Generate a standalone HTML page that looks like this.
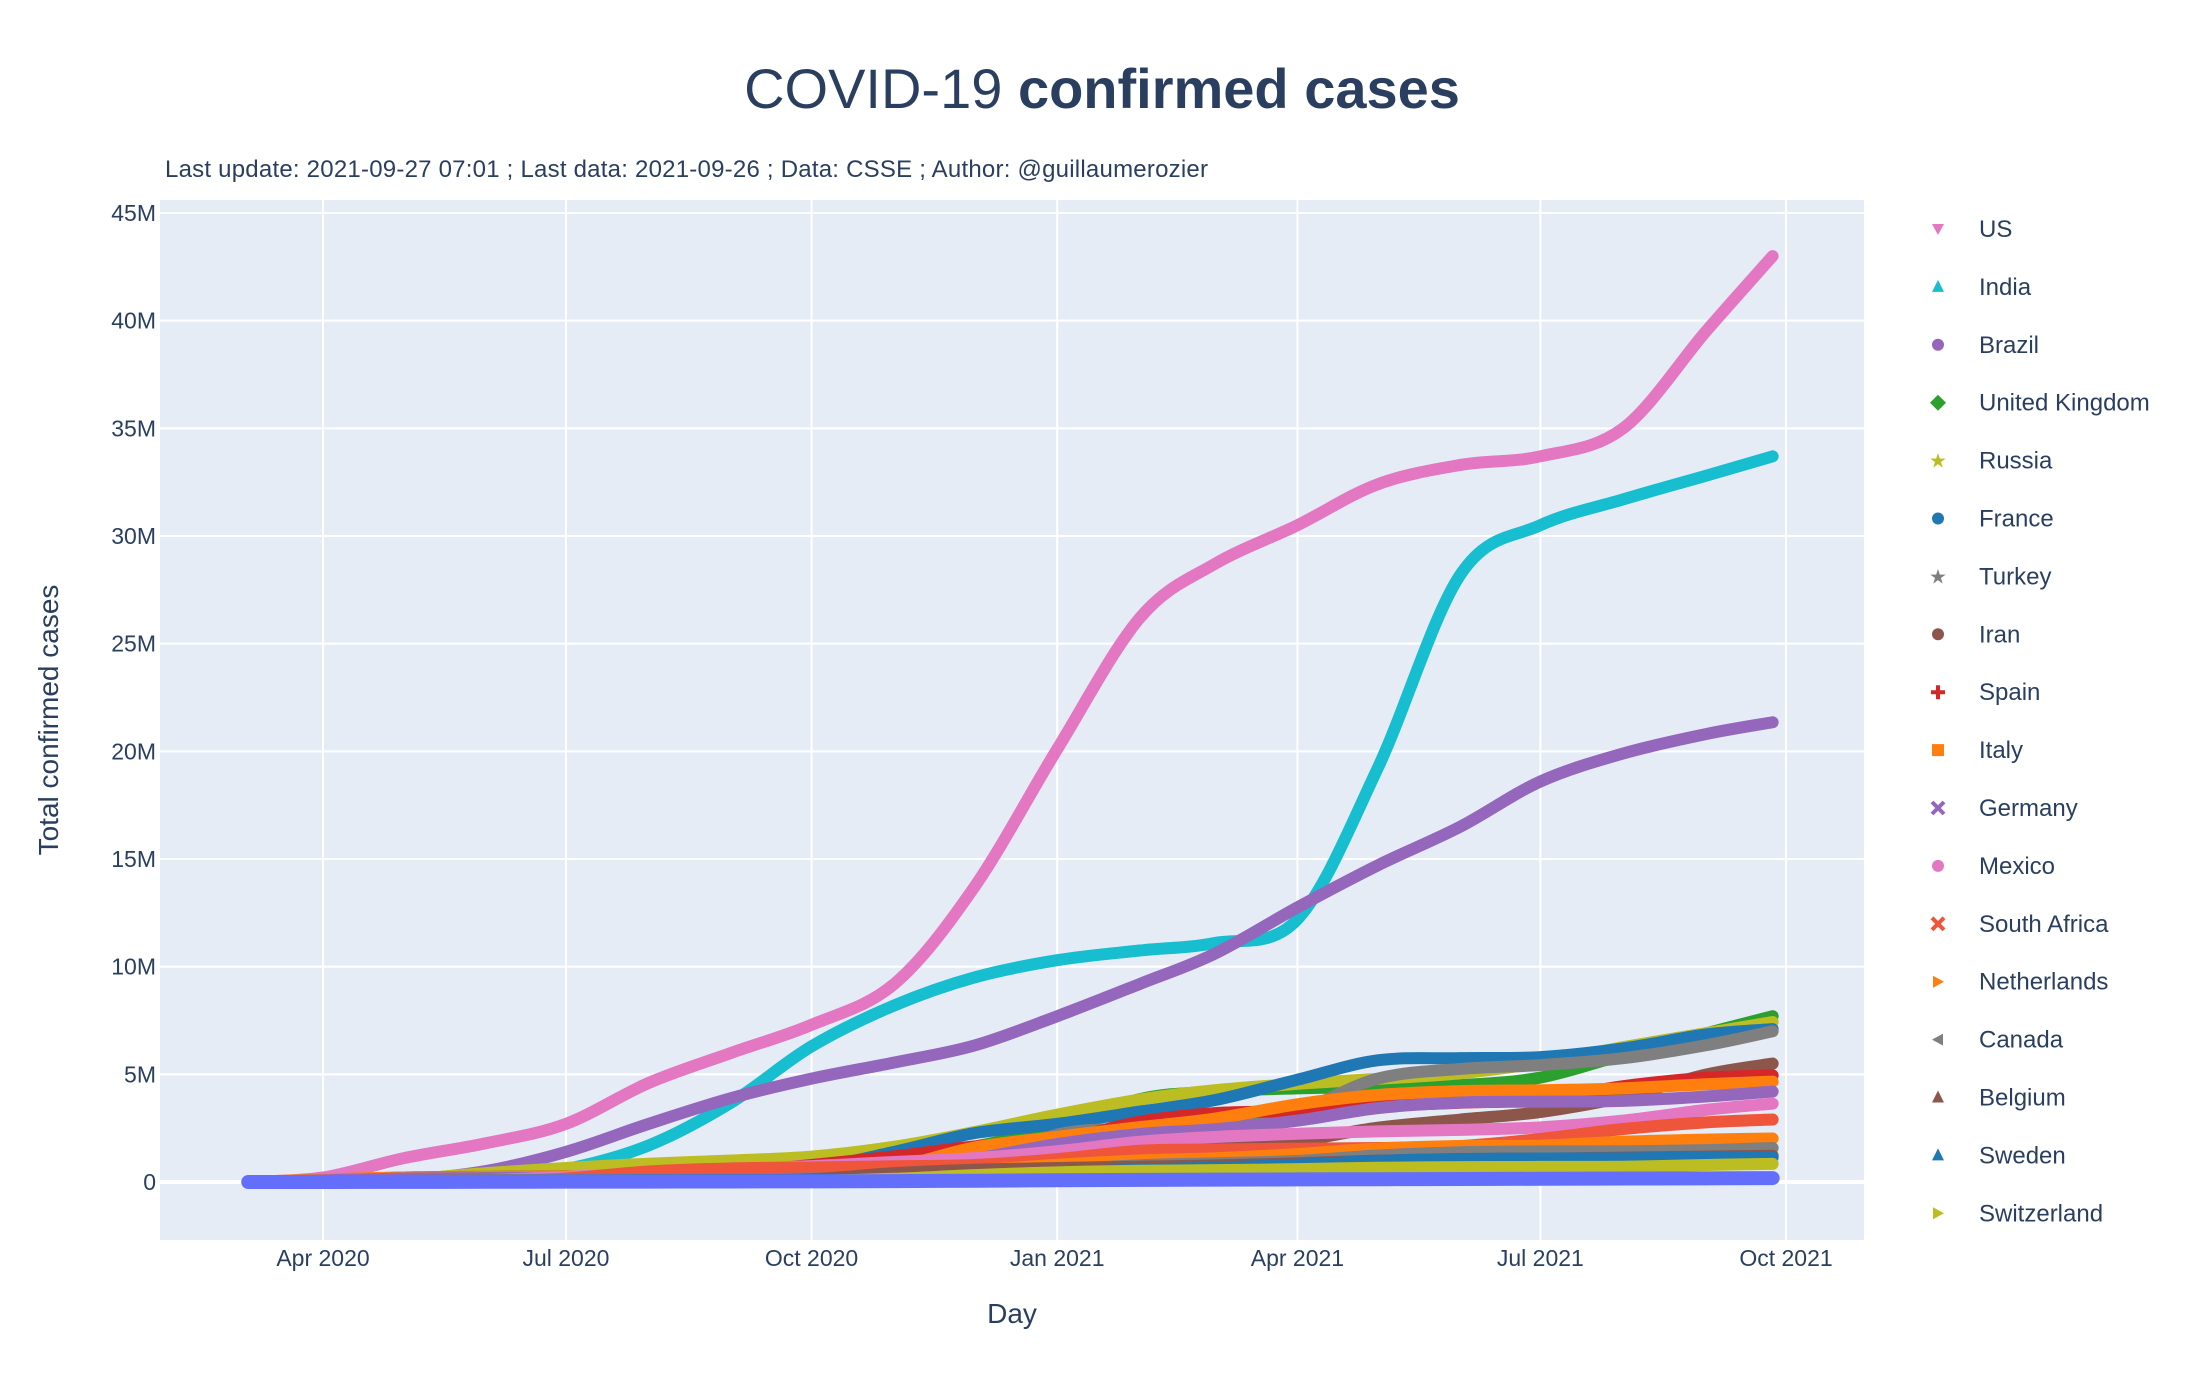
<!DOCTYPE html>
<html><head><meta charset="utf-8"><style>
html,body{margin:0;padding:0;background:#fff;}
svg{display:block;font-family:"Liberation Sans","DejaVu Sans",sans-serif;}
</style></head><body>
<svg id="chart" width="2200" height="1400" viewBox="0 0 2200 1400">
<text x="1102" y="108" text-anchor="middle" font-size="56" fill="#2a3f5f">COVID-19 <tspan font-weight="bold">confirmed cases</tspan></text>
<text x="165" y="177" font-size="24" fill="#2a3f5f" textLength="1043">Last update: 2021-09-27 07:01 ; Last data: 2021-09-26 ; Data: CSSE ; Author: @guillaumerozier</text>
<rect x="160" y="200" width="1704" height="1040" fill="#e5ecf6"/>
<g id="grid"></g>
<g id="series"></g>
<g id="axes"></g>
<text transform="translate(58,720) rotate(-90)" text-anchor="middle" font-size="28" fill="#2a3f5f">Total confirmed cases</text>
<text x="1012" y="1323" text-anchor="middle" font-size="28" fill="#2a3f5f">Day</text>
<g id="legend"></g>
</svg>
<script>
const dates = ["2020-03-04","2020-04-01","2020-05-01","2020-06-01","2020-07-01","2020-08-01","2020-09-01","2020-10-01","2020-11-01","2020-12-01","2021-01-01","2021-02-01","2021-03-01","2021-04-01","2021-05-01","2021-06-01","2021-07-01","2021-08-01","2021-09-01","2021-09-26"];
const countries = ["US","India","Brazil","United Kingdom","Russia","France","Turkey","Iran","Spain","Italy","Germany","Mexico","South Africa","Netherlands","Canada","Belgium","Sweden","Switzerland"];
const colors = ["#e377c2","#17becf","#9467bd","#2ca02c","#bcbd22","#1f77b4","#7f7f7f","#8c564b","#d62728","#ff7f0e","#9467bd","#e377c2","#ef553b","#ff7f0e","#7f7f7f","#8c564b","#1f77b4","#bcbd22"];
const symbols = ["tri-down","tri-up","circle","diamond","star6","circle","star","circle","cross","square","x","circle","x","tri-right","tri-left","tri-up","tri-up","tri-right"];
const vUS = [0,0.21,1.1,1.8,2.7,4.6,6.0,7.3,9.2,13.7,20.1,26.2,28.7,30.5,32.4,33.3,33.7,35.0,39.5,43.0];
const vIndia = [0,0.002,0.035,0.19,0.6,1.7,3.7,6.3,8.2,9.5,10.3,10.75,11.1,12.2,19.2,28.2,30.5,31.7,32.8,33.7];
const vBrazil = [0,0.006,0.09,0.51,1.4,2.7,3.9,4.8,5.55,6.34,7.7,9.2,10.6,12.75,14.7,16.5,18.6,19.9,20.8,21.35];
const vUK = [0,0.03,0.18,0.28,0.31,0.3,0.34,0.47,1.03,1.64,2.52,3.85,4.2,4.35,4.42,4.5,4.85,5.9,6.9,7.7];
const vRussia = [0,0.003,0.11,0.41,0.65,0.85,1.0,1.18,1.64,2.32,3.13,3.83,4.26,4.56,4.79,5.05,5.54,6.26,6.91,7.43];
const vFrance = [0,0.057,0.17,0.19,0.2,0.23,0.32,0.62,1.4,2.27,2.7,3.27,3.8,4.75,5.65,5.75,5.8,6.2,6.85,7.1];
const vTurkey = [0,0.015,0.12,0.164,0.2,0.23,0.27,0.32,0.37,0.54,2.2,2.48,2.7,3.3,4.8,5.25,5.43,5.75,6.35,7.0];
const vIran = [0.001,0.048,0.095,0.154,0.23,0.30,0.375,0.46,0.63,0.96,1.23,1.43,1.63,1.91,2.52,2.9,3.25,3.94,4.99,5.5];
const vSpain = [0,0.1,0.21,0.24,0.25,0.29,0.46,0.79,1.19,1.65,1.93,2.8,3.2,3.3,3.52,3.68,3.83,4.45,4.84,4.95];
const vItaly = [0.001,0.11,0.21,0.23,0.24,0.25,0.27,0.31,0.68,1.6,2.1,2.55,2.94,3.61,4.04,4.22,4.26,4.35,4.54,4.66];
const vGermany = [0,0.077,0.16,0.18,0.195,0.21,0.245,0.29,0.53,1.07,1.76,2.23,2.45,2.85,3.43,3.69,3.73,3.77,3.97,4.2];
const vMexico = [0,0.001,0.02,0.09,0.23,0.42,0.6,0.74,0.93,1.11,1.43,1.87,2.09,2.24,2.35,2.42,2.54,2.85,3.35,3.64];
const vSouthAfrica = [0,0.001,0.006,0.033,0.16,0.49,0.63,0.675,0.73,0.79,1.06,1.45,1.51,1.55,1.58,1.67,2.0,2.46,2.77,2.9];
const vNetherlands = [0,0.013,0.04,0.047,0.05,0.055,0.07,0.14,0.37,0.53,0.8,1.0,1.1,1.3,1.55,1.67,1.69,1.87,1.97,2.02];
const vCanada = [0,0.009,0.055,0.09,0.104,0.116,0.13,0.16,0.24,0.37,0.58,0.78,0.87,0.98,1.23,1.38,1.42,1.43,1.48,1.58];
const vBelgium = [0,0.013,0.049,0.058,0.062,0.07,0.085,0.13,0.41,0.57,0.65,0.71,0.77,0.87,0.99,1.06,1.08,1.13,1.18,1.22];
const vSweden = [0,0.005,0.022,0.038,0.07,0.08,0.085,0.094,0.125,0.25,0.44,0.57,0.67,0.8,0.98,1.07,1.09,1.1,1.13,1.15];
const vSwitzerland = [0,0.017,0.03,0.031,0.032,0.035,0.042,0.053,0.15,0.32,0.45,0.52,0.55,0.6,0.66,0.69,0.7,0.71,0.79,0.84];
const vOthersSmall = [0,0.001,0.005,0.01,0.015,0.02,0.025,0.03,0.04,0.06,0.08,0.1,0.11,0.12,0.13,0.14,0.15,0.16,0.17,0.18];
const yTicks = [0,5,10,15,20,25,30,35,40,45];
const yTickLabels = ["0","5M","10M","15M","20M","25M","30M","35M","40M","45M"];
const xTickDates = ["2020-04-01","2020-07-01","2020-10-01","2021-01-01","2021-04-01","2021-07-01","2021-10-01"];
const xTickLabels = ["Apr 2020","Jul 2020","Oct 2020","Jan 2021","Apr 2021","Jul 2021","Oct 2021"];

const values = [vUS,vIndia,vBrazil,vUK,vRussia,vFrance,vTurkey,vIran,vSpain,vItaly,vGermany,vMexico,vSouthAfrica,vNetherlands,vCanada,vBelgium,vSweden,vSwitzerland];
const NS="http://www.w3.org/2000/svg";
const PL=160,PR=1864,PT=200,PB=1240;
const t0=Date.parse("2020-04-01"), t1=Date.parse("2021-10-01");
function xs(d){return 323+(Date.parse(d)-t0)/(t1-t0)*(1786-323);}
function ys(v){return 1182-v*(1182-213)/45;}
function mk(tag,attrs,parent){const e=document.createElementNS(NS,tag);for(const k in attrs)e.setAttribute(k,attrs[k]);parent.appendChild(e);return e;}
const grid=document.getElementById('grid'),axes=document.getElementById('axes'),ser=document.getElementById('series'),leg=document.getElementById('legend');
yTicks.forEach((t,i)=>{
  const y=ys(t);
  const l=mk('line',{x1:PL,x2:PR,y1:y,y2:y,stroke:'#fff','stroke-width':t===0?4:2},grid);
  
  
  const tx=mk('text',{x:156,y:y+8,'text-anchor':'end','font-size':23,fill:'#2a3f5f'},axes);
  tx.textContent=yTickLabels[i];
  
  
});
xTickDates.forEach((d,i)=>{
  const x=xs(d);
  const l=mk('line',{x1:x,x2:x,y1:PT,y2:PB,stroke:'#fff','stroke-width':2},grid);
  
  
  const tx=mk('text',{x:x,y:1266,'text-anchor':'middle','font-size':23,fill:'#2a3f5f'},axes);
  tx.textContent=xTickLabels[i];
  
  
});
function pathFor(vals){
  const p=vals.map((v,i)=>[xs(dates[i]),ys(v)]);
  let d='M'+p[0][0]+','+p[0][1];
  for(let i=0;i<p.length-1;i++){
    const p0=p[Math.max(0,i-1)],p1=p[i],p2=p[i+1],p3=p[Math.min(p.length-1,i+2)];
    const c1x=p1[0]+(p2[0]-p0[0])/6,c1y=p1[1]+(p2[1]-p0[1])/6;
    const c2x=p2[0]-(p3[0]-p1[0])/6,c2y=p2[1]-(p3[1]-p1[1])/6;
    d+=' C'+c1x+','+Math.min(c1y,p1[1])+' '+c2x+','+Math.max(c2y,p2[1])+' '+p2[0]+','+p2[1];
  }
  return d;
}
for(let i=0;i<values.length;i++){
  const p=mk('path',{d:pathFor(values[i]),fill:'none',stroke:colors[i],'stroke-width':12,'stroke-linejoin':'round','stroke-linecap':'round'},ser);
  
  
}
const other=mk('path',{d:pathFor(vOthersSmall),fill:'none',stroke:'#636efa','stroke-width':14,'stroke-linejoin':'round','stroke-linecap':'round'},ser);


function symbol(s,cx,cy,c,parent){
  const r=6;let e;
  if(s==='circle')e=mk('circle',{cx:cx,cy:cy,r:r,fill:c},parent);
  else if(s==='square')e=mk('rect',{x:cx-r,y:cy-r,width:2*r,height:2*r,fill:c},parent);
  else if(s==='diamond')e=mk('polygon',{points:`${cx},${cy-8} ${cx+8},${cy} ${cx},${cy+8} ${cx-8},${cy}`,fill:c},parent);
  else if(s==='tri-up')e=mk('polygon',{points:`${cx},${cy-7} ${cx+6},${cy+5} ${cx-6},${cy+5}`,fill:c},parent);
  else if(s==='tri-down')e=mk('polygon',{points:`${cx-6},${cy-5} ${cx+6},${cy-5} ${cx},${cy+6}`,fill:c},parent);
  else if(s==='tri-right')e=mk('polygon',{points:`${cx-5},${cy-6} ${cx+6},${cy} ${cx-5},${cy+6}`,fill:c},parent);
  else if(s==='tri-left')e=mk('polygon',{points:`${cx+5},${cy-6} ${cx-6},${cy} ${cx+5},${cy+6}`,fill:c},parent);
  else if(s==='cross')e=mk('path',{d:`M${cx-7},${cy}H${cx+7}M${cx},${cy-7}V${cy+7}`,stroke:c,'stroke-width':4},parent);
  else if(s==='x')e=mk('path',{d:`M${cx-6},${cy-6}L${cx+6},${cy+6}M${cx+6},${cy-6}L${cx-6},${cy+6}`,stroke:c,'stroke-width':4},parent);
  else e=mk('text',{x:cx,y:cy+7,'text-anchor':'middle','font-size':20,fill:c},parent),e.textContent='★';
  return e;
}
countries.forEach((n,i)=>{
  const y=229+i*57.9;
  const g=mk('g',{},leg);
  
  
  symbol(symbols[i],1938,y,colors[i],g);
  const t=mk('text',{x:1979,y:y+8,'font-size':24,fill:'#2a3f5f'},g);
  t.textContent=n;
});
</script>
</body></html>
